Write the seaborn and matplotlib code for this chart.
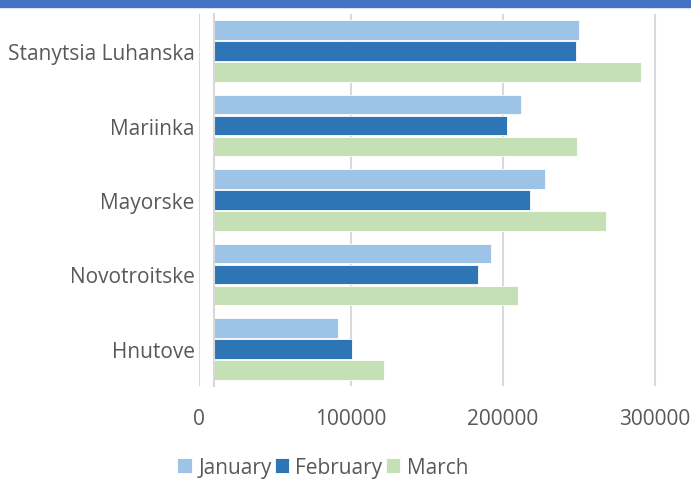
import numpy as np
import pandas as pd
import matplotlib
matplotlib.use("Agg")
import matplotlib.pyplot as plt
from matplotlib.patches import Rectangle
import seaborn as sns

# data
towns = ["Stanytsia Luhanska", "Mariinka", "Mayorske", "Novotroitske", "Hnutove"]
months = ["January", "February", "March"]
january = [250000, 212000, 228000, 192000, 91500]
february = [248000, 203000, 218000, 183500, 101000]
march = [291000, 249000, 268000, 210000, 122000]
axis_cross = 10000  # value where the category axis crosses

colors = ["#9DC3E6", "#2E75B6", "#C5E0B4"]
text_color = "#595959"
grid_color = "#D9D9D9"

df = pd.DataFrame({"town": towns * 3,
                   "month": np.repeat(months, len(towns)),
                   "value": january + february + march})

sns.set_style("white")
plt.rcParams["font.family"] = ["Open Sans", "DejaVu Sans"]

fig = plt.figure(figsize=(6.91, 4.81), dpi=100)
ax = fig.add_axes([199 / 691, 1 - 387 / 481, 492 / 691, 372 / 481])

sns.barplot(data=df, x="value", y="town", hue="month", order=towns,
            hue_order=months, palette=colors, orient="h", width=0.85,
            gap=0.07, saturation=1, edgecolor="white", linewidth=0.6,
            legend=True, ax=ax)

# bars start where the category axis crosses
for p in ax.patches:
    w = p.get_width()
    p.set_x(axis_cross)
    p.set_width(w - axis_cross)

ax.set_xlim(0, 324000)
ax.set_ylim(len(towns) - 0.5, -0.5)
ax.set_xticks([0, 100000, 200000, 300000])
ax.set_xticklabels(["0", "100000", "200000", "300000"])
ax.xaxis.grid(True, color=grid_color, linewidth=1.5)
ax.set_axisbelow(True)

for s in ["top", "right", "bottom"]:
    ax.spines[s].set_visible(False)
ax.spines["left"].set_position(("data", axis_cross))
ax.spines["left"].set_color(grid_color)
ax.spines["left"].set_linewidth(1.5)

ax.set_yticks(np.arange(-0.5, len(towns)), minor=True)
ax.tick_params(axis="y", which="minor", length=7, width=1.5, color=grid_color,
               direction="out")
ax.tick_params(axis="y", which="major", length=0, pad=14, labelsize=15,
               labelcolor=text_color)
ax.tick_params(axis="x", length=0, pad=16, labelsize=15, labelcolor=text_color)
for lbl in ax.get_yticklabels():
    lbl.set_va("center_baseline")
ax.set_xlabel("")
ax.set_ylabel("")

handles, labels = ax.get_legend_handles_labels()
ax.get_legend().remove()
fig.legend(handles, labels, loc="lower center", bbox_to_anchor=(0.467, -0.034),
           ncol=3, frameon=False, fontsize=15, labelcolor=text_color,
           handlelength=0.7, handleheight=0.7, handletextpad=0.3,
           columnspacing=0.15)

fig.patches.append(Rectangle((0, 1 - 8 / 481), 1, 8 / 481,
                             transform=fig.transFigure, color="#4472C4",
                             zorder=10))

fig.savefig("out.png", dpi=100)
